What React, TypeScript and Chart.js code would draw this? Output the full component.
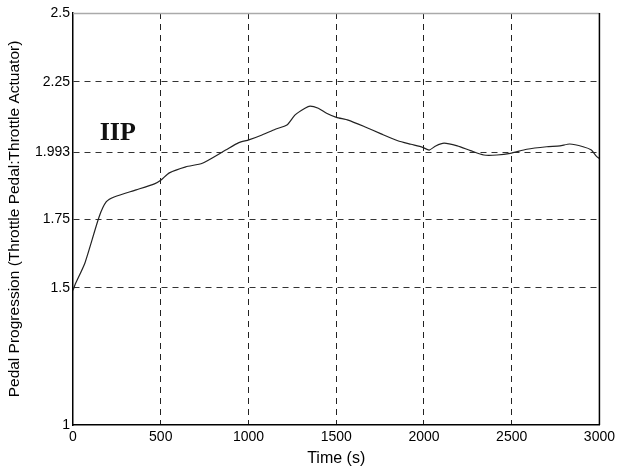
import React, { useEffect, useRef } from "react";
import { Chart, registerables } from "chart.js";

Chart.register(...registerables);

const timeS = [0, 11, 68, 149, 190, 238, 360, 464, 502, 549, 643, 737, 870, 945, 1002, 1077, 1153, 1219, 1266, 1322, 1351, 1398, 1445, 1501, 1568, 1662, 1756, 1851, 1926, 1992, 2030, 2067, 2115, 2190, 2265, 2341, 2416, 2492, 2586, 2699, 2775, 2831, 2907, 2954, 2982, 3000];
const pedal = [1.49, 1.51, 1.59, 1.758, 1.813, 1.831, 1.856, 1.878, 1.892, 1.918, 1.94, 1.953, 2.001, 2.028, 2.038, 2.056, 2.077, 2.092, 2.129, 2.153, 2.161, 2.153, 2.135, 2.12, 2.11, 2.086, 2.06, 2.035, 2.022, 2.011, 2.001, 2.016, 2.026, 2.016, 1.999, 1.983, 1.983, 1.989, 2.004, 2.013, 2.016, 2.023, 2.013, 2.001, 1.979, 1.97];
const yTicks = [1, 1.5, 1.75, 1.993, 2.25, 2.5];
const xTicks = [0, 500, 1000, 1500, 2000, 2500, 3000];
const labelText = "IIP";
const labelAt = { x: 255, y: 2.063 };

const sans = "'Liberation Sans', Arial, sans-serif";

export default function App() {
  const ref = useRef<HTMLCanvasElement>(null);
  useEffect(() => {
    document.body.style.margin = "0";
    const framePlugin = {
      id: "frame",
      afterDraw(chart: any) {
        const { ctx, chartArea: a, scales } = chart;
        ctx.save();
        ctx.strokeStyle = "#aaa";
        ctx.lineWidth = 1.5;
        ctx.beginPath();
        ctx.moveTo(a.left, a.top + 0.5);
        ctx.lineTo(a.right, a.top + 0.5);
        ctx.stroke();
        ctx.strokeStyle = "#000";
        ctx.lineWidth = 1.5;
        ctx.beginPath();
        ctx.moveTo(a.right, a.top);
        ctx.lineTo(a.right, a.bottom);
        ctx.stroke();
        ctx.fillStyle = "#111";
        ctx.font = "bold 26px 'Liberation Serif', 'Times New Roman', serif";
        ctx.textAlign = "center";
        ctx.textBaseline = "middle";
        ctx.fillText(labelText, scales.x.getPixelForValue(labelAt.x), scales.y.getPixelForValue(labelAt.y));
        ctx.restore();
      },
    };
    const chart = new Chart(ref.current!, {
      type: "line",
      data: {
        datasets: [
          {
            data: timeS.map((t, i) => ({ x: t, y: pedal[i] })),
            borderColor: "#222",
            borderWidth: 1.2,
            pointRadius: 0,
            tension: 0.2,
            fill: false,
          },
        ],
      },
      options: {
        animation: false,
        responsive: false,
        layout: { padding: { top: 13, right: 16, left: 0, bottom: 0 } },
        plugins: { legend: { display: false }, tooltip: { enabled: false } },
        scales: {
          x: {
            type: "linear",
            min: 0,
            max: 3000,
            afterBuildTicks: (s: any) => {
              s.ticks = xTicks.map((v) => ({ value: v }));
            },
            afterFit: (s: any) => {
              s.height = 43;
            },
            grid: {
              color: (c: any) => (c.tick && (c.tick.value === 0 || c.tick.value === 3000) ? "rgba(0,0,0,0)" : "#222"),
              lineWidth: 1,
              drawTicks: false,
            },
            border: { display: true, color: "#000", width: 1.5, dash: [6, 5] },
            ticks: {
              color: "#000",
              padding: 4,
              maxRotation: 0,
              callback: (v: any) => String(v),
              font: { family: sans, size: 14 },
            },
            title: {
              display: true,
              text: "Time (s)",
              color: "#000",
              padding: { top: 0, bottom: 0 },
              font: { family: sans, size: 16 },
            },
          },
          y: {
            type: "linear",
            min: 1,
            max: 2.5,
            afterBuildTicks: (s: any) => {
              s.ticks = yTicks.map((v) => ({ value: v }));
            },
            afterFit: (s: any) => {
              s.width = 73;
            },
            grid: {
              color: (c: any) => (c.tick && (c.tick.value === 1 || c.tick.value === 2.5) ? "rgba(0,0,0,0)" : "#333"),
              lineWidth: 1,
              drawTicks: false,
            },
            border: { display: true, color: "#000", width: 1.5, dash: [6, 5] },
            ticks: {
              color: "#000",
              padding: 3,
              callback: (v: any) => String(v),
              font: { family: sans, size: 14 },
            },
            title: {
              display: true,
              text: "Pedal Progression (Throttle Pedal:Throttle Actuator)",
              color: "#000",
              padding: { top: 5, bottom: 0 },
              font: { family: sans, size: 15.5 },
            },
          },
        },
      },
      plugins: [framePlugin],
    } as any);
    return () => chart.destroy();
  }, []);
  return (
    <div style={{ position: "fixed", left: 0, top: 0, width: 619, height: 468, background: "#fff" }}>
      <canvas ref={ref} width={619} height={468} />
    </div>
  );
}
